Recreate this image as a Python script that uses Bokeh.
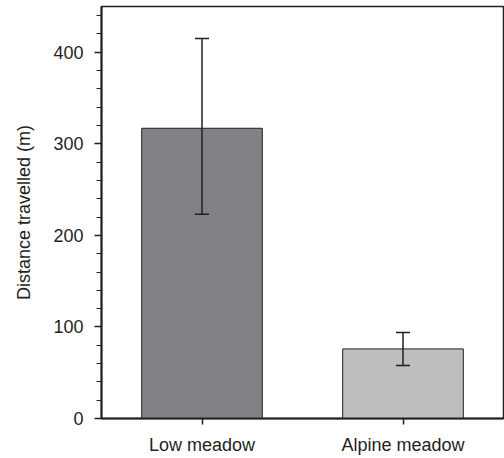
from bokeh.plotting import figure
from bokeh.models import ColumnDataSource, Whisker, TeeHead, FactorRange, Range1d, FixedTicker
from bokeh.embed import file_html
from bokeh.resources import INLINE

habitats = ["Low meadow", "Alpine meadow"]
distance = [317, 76]
upper = [415, 94]
lower = [223, 58]
colors = ["#808285", "#bcbec0"]
y_ticks = [0, 100, 200, 300, 400]
y_minor = [20, 40, 60, 80, 120, 140, 160, 180, 220, 240, 260, 280, 320, 340, 360, 380, 420, 440]

src = ColumnDataSource(dict(x=habitats, top=distance, upper=upper, lower=lower, color=colors))

ink = "#231f20"
font = "Liberation Sans"

p = figure(width=504, height=458, output_backend="svg", toolbar_location=None,
           x_range=FactorRange(factors=habitats, range_padding=0),
           y_range=Range1d(0, 450),
           min_border_left=101, min_border_right=1, min_border_top=6, min_border_bottom=40)

p.vbar(x="x", top="top", width=0.6, source=src, fill_color="color",
       line_color=ink, line_width=1)

w = Whisker(base="x", upper="upper", lower="lower", source=src, line_color=ink, line_width=1.5,
            upper_head=TeeHead(size=14, line_color=ink, line_width=1.5),
            lower_head=TeeHead(size=14, line_color=ink, line_width=1.5),
            level="overlay")
p.add_layout(w)

p.grid.visible = False
p.outline_line_color = ink
p.outline_line_width = 1.5
p.background_fill_color = "white"
p.border_fill_color = "white"

p.yaxis.ticker = FixedTicker(ticks=y_ticks, minor_ticks=y_minor)
p.yaxis.axis_label = "Distance travelled (m)"
p.yaxis.axis_label_text_font = font
p.yaxis.axis_label_text_font_style = "normal"
p.yaxis.axis_label_text_font_size = "18px"
p.yaxis.axis_label_text_color = ink
p.yaxis.axis_label_standoff = 16
p.yaxis.major_label_text_font = font
p.yaxis.major_label_text_font_size = "18px"
p.yaxis.major_label_text_color = ink
p.yaxis.major_label_standoff = 11
p.yaxis.major_tick_out = 7
p.yaxis.major_tick_in = 0
p.yaxis.minor_tick_out = 5
p.yaxis.minor_tick_in = 0

p.xaxis.major_label_text_font = font
p.xaxis.major_label_text_font_size = "18px"
p.xaxis.major_label_text_color = ink
p.xaxis.major_label_standoff = 10
p.xaxis.major_tick_out = 6
p.xaxis.major_tick_in = 0

for ax in (p.xaxis, p.yaxis):
    ax.axis_line_color = ink
    ax.axis_line_width = 2
    ax.major_tick_line_color = ink
    ax.major_tick_line_width = 1.5
    ax.minor_tick_line_color = ink

open("out.html", "w").write(file_html(p, INLINE))
